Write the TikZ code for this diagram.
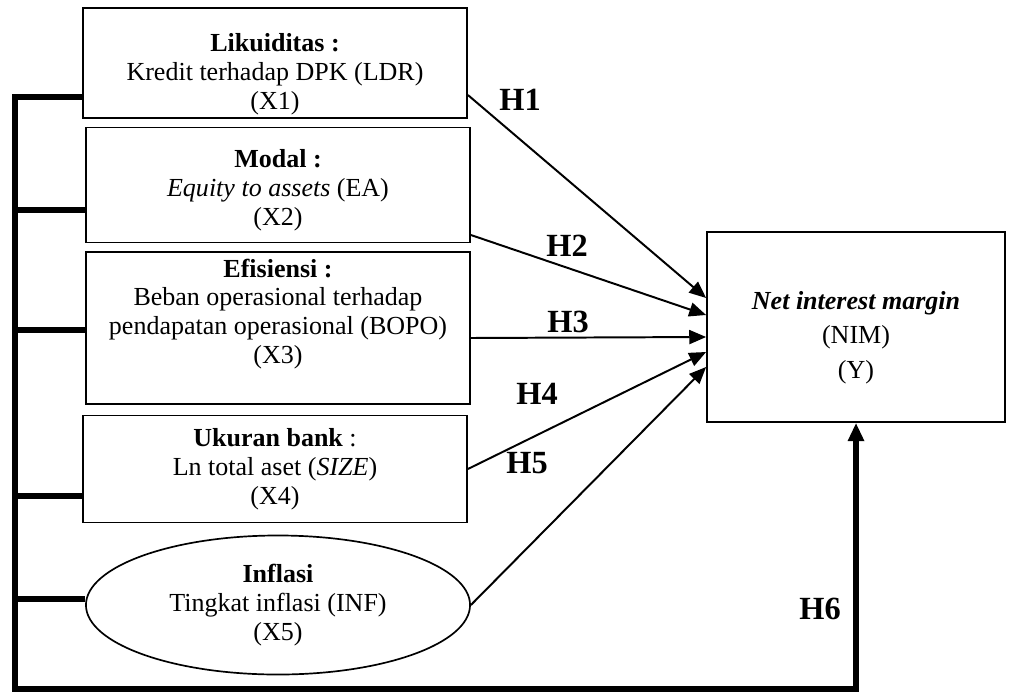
\documentclass[tikz,border=0pt]{standalone}
\usepackage{fontspec}
\setmainfont{Liberation Serif}
\usetikzlibrary{arrows.meta,calc,shapes.geometric}

\tikzset{
	varbox/.style={draw, line width=1.2pt, minimum width=9.6cm, align=center, inner sep=0pt,
		font=\fontsize{18.5}{20.5}\selectfont},
	hyp/.style={-{Triangle[length=12pt,width=10pt]}, line width=1.4pt},
	bracket/.style={line width=4pt, miter limit=4},
	hlabel/.style={font=\fontsize{23}{25}\selectfont\bfseries}
}

\begin{document}
\begin{tikzpicture}[x=0.025cm, y=-0.025cm]
\useasboundingbox (0,0) rectangle (1011,691);

\node[varbox, minimum height=2.75cm, text height=70pt] (x1) at (275,63)
	{\textbf{Likuiditas :}\\Kredit terhadap DPK (LDR)\\(X1)};
\node[varbox, minimum height=2.875cm, text height=61pt] (x2) at (278,185)
	{\textbf{Modal :}\\\textit{Equity to assets} (EA)\\(X2)};
\node[varbox, minimum height=3.8cm, text depth=24pt] (x3) at (278,328)
	{\textbf{Efisiensi :}\\Beban operasional terhadap\\pendapatan operasional (BOPO)\\(X3)};
\node[varbox, minimum height=2.675cm] (x4) at (275,469)
	{\textbf{Ukuran bank} :\\Ln total aset (\textit{SIZE})\\(X4)};
\node[varbox, ellipse, minimum height=3.475cm] (x5) at (278,605)
	{\textbf{Inflasi}\\Tingkat inflasi (INF)\\(X5)};
\node[varbox, minimum width=7.45cm, minimum height=4.75cm, text height=77pt] (nim) at (856,327)
	{\textbf{\textit{Net interest margin}}\\[4pt](NIM)\\[4pt](Y)};

\draw[hyp] ($(x1.east)+(0,32)$) -- ($(nim.west)+(0,-29)$);
\draw[hyp] ($(x2.east)+(0,50)$) -- ($(nim.west)+(0,-12)$);
\draw[hyp] ($(x3.east)+(0,10)$) -- ($(nim.west)+(0,10)$);
\draw[hyp] (x4.east) -- ($(nim.west)+(0,25)$);
\draw[hyp] (x5.east) -- ($(nim.west)+(0,40)$);

\coordinate (corner) at (15,689);
\draw[bracket, -{Triangle[length=13pt,width=11pt]}] ($(x1.west)+(0,34)$) -| (corner) -| (nim.south);
\foreach \n/\d in {x2/25, x3/2, x4/27, x5/-6}
	\draw[bracket] ($(\n.west)+(0,\d)$) coordinate (t) -- (t -| corner);

\node[hlabel] (h1) at (520,100) {H1};
\node[hlabel] (h2) at (567,246) {H2};
\node[hlabel] (h3) at (568,322) {H3};
\node[hlabel] (h4) at (537,394) {H4};
\node[hlabel] (h5) at (527,463) {H5};
\node[hlabel] (h6) at (820,609) {H6};

\end{tikzpicture}
\end{document}
